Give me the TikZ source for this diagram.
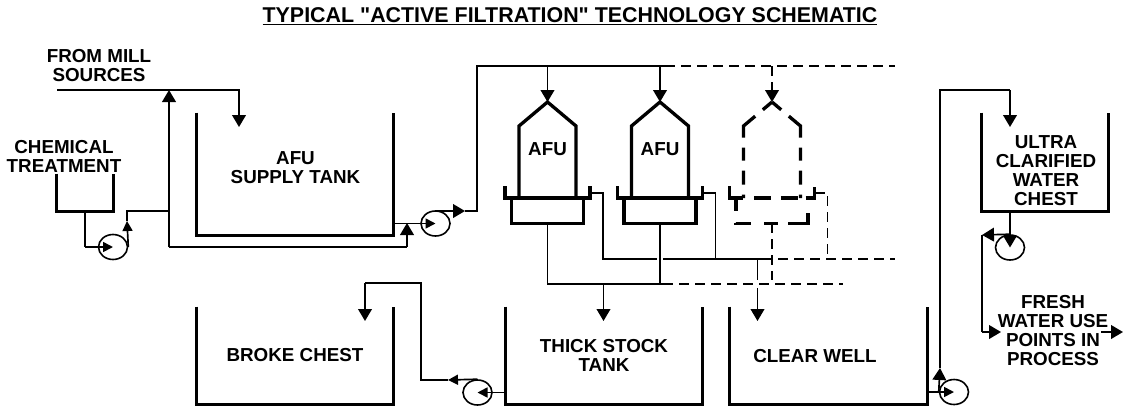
\documentclass[tikz,border=0pt]{standalone}
\usepackage{fontspec}
\setmainfont[Ligatures=TeXOff]{Liberation Sans}
\usetikzlibrary{arrows.meta,shapes.geometric,positioning}

\begin{document}
\begin{tikzpicture}[
  x=0.75pt, y=-0.75pt,
  every node/.style = {font=\bfseries\fontsize{14.1}{14.25}\selectfont, align=center, inner sep=0pt},
  %--- node styles ---------------------------------------------------
  tankst/.style   = {rectangle, minimum width=#1*0.75pt},
  pumpst/.style   = {draw, ellipse, line width=1.2pt,
                     minimum width=21.75pt, minimum height=18.75pt},
  boxst/.style    = {rectangle, minimum width=53.6pt, minimum height=18.75pt},
  tankline/.style = {line width=2.5pt},
  afuline/.style  = {line width=2.5pt},
  hooddash/.style = {line width=2.5pt,
                     dash pattern=on 9pt off 7.5pt on 20.25pt off 7.5pt on 9.75pt off 7.5pt on 10.5pt off 7.5pt on 10pt},
  traydash/.style = {line width=2.5pt,
                     dash pattern=on 18.75pt off 8.75pt on 12.5pt off 7.5pt on 12.5pt off 6pt on 15pt},
  boxdash/.style  = {line width=2.5pt,
                     dash pattern=on 9.75pt off 9pt on 12pt off 9.75pt on 10.5pt off 7.5pt on 22.5pt},
  pipe/.style     = {line width=1.25pt},
  pipedash/.style = {line width=1.25pt, dash pattern=on 7.5pt off 4.5pt},
  pipegap/.style  = {pipedash, dash phase=7.5pt},
  arr/.style      = {pipe, -{Triangle[length=9pt, width=10.3pt]}},
  arrdash/.style  = {pipedash, -{Triangle[length=9pt, width=10.3pt]}},
  sarr/.style     = {pipe, -{Triangle[length=7.5pt, width=7.5pt]}},
]
\useasboundingbox (0,0) rectangle (1123,408);

% ---- Title --------------------------------------------------------
\node[font=\bfseries\fontsize{16.05}{18}\selectfont] (title) at (570,16.5)
    {\underline{TYPICAL "ACTIVE FILTRATION" TECHNOLOGY SCHEMATIC}};

% ---- Tanks --------------------------------------------------------
\node[tankst=196, minimum height=91.5pt] (supply) at (295,174) {};
\node[tankst=56, minimum height=27.75pt] (chem) at (85,192.5) {};
\node[tankst=126, minimum height=73.5pt] (ultra) at (1045,162) {};
\node[tankst=196, minimum height=72.75pt] (broke) at (295,355.5) {BROKE CHEST};
\node[tankst=197, minimum height=72.75pt, right=84pt of broke] (thick) {};
\node[tankst=197, minimum height=72.75pt, right=20.25pt of thick] (well) {};

\foreach \n in {supply,chem,ultra,broke,thick,well}
  \draw[tankline] (\n.north west) |- (\n.south east) -- (\n.north east);

% ---- Labels -------------------------------------------------------
\node (mill)   at (99,65.5)    {FROM MILL\\SOURCES};
\node (chemtx) at (64,156)     {CHEMICAL\\TREATMENT};
\node (suptx)  at (295.5,167.5) {AFU\\SUPPLY TANK};
\node (thicktx) at (604,355.5) {THICK STOCK\\TANK};
\node (welltx) at (815,356)    {CLEAR WELL};
\node (ultratx) at (1046,170.5) {ULTRA\\CLARIFIED\\WATER\\CHEST};
\node (fresh)  at (1053,331)   {FRESH\\WATER USE\\POINTS IN\\PROCESS};

% ---- Pumps --------------------------------------------------------
\node[pumpst] (pumpchem) at (113,247)     {};
\node[pumpst] (pumpsup)  at (435.5,223.5) {};
\node[pumpst] (pumpthk)  at (477.5,392.5) {};
\node[pumpst] (pumpwell) at (954,392)     {};
\node[pumpst] (pumpult)  at (1010,247.5)  {};

% ---- AFU units ----------------------------------------------------
\foreach \n/\cx in {A/547.5, B/660, C/772} {
  \node[boxst] (box\n) at (\cx,210.5) {};
  \coordinate (feed\n) at (\cx,66);
  \coordinate (tip\n)  at (\cx,102);
  \coordinate (port\n) at (\cx+42.5,193);
  \coordinate (turn\n) at (\cx+55.5,193);
  \coordinate (rej\n)  at (\cx+55.5,259);
  \coordinate (acc\n)  at (\cx,284);
}
\foreach \n/\cx in {A/547.5, B/660} {
  \draw[afuline] (box\n.north west) rectangle (box\n.south east);
  \draw[afuline] (\cx-28.5,198) -- (\cx-28.5,126) -- (\cx,102) -- (\cx+28.5,126) -- (\cx+28.5,198);
  \draw[afuline] (\cx-42.5,186) -- (\cx-42.5,198) -- (\cx+42.5,198) -- (\cx+42.5,186);
}
\draw[hooddash] (772,102) -- (743.5,126) -- (743.5,198);
\draw[hooddash] (772,102) -- (800.5,126) -- (800.5,198);
\draw[traydash] (729.5,186) -- (729.5,198) -- (814.5,198) -- (814.5,186);
\draw[boxdash] (boxC.north west) -- (boxC.south west) -- (boxC.south east) -- (boxC.north east);

\node (afuA) at (547.5,149) {AFU};
\node (afuB) at (660,149)   {AFU};

% ---- Junctions ----------------------------------------------------
\coordinate (millstart) at (57,90);
\coordinate (milljoin)  at (169,90);
\coordinate (milldrop)  at (239,90);
\coordinate (milltip)   at (239,127);
\coordinate (chemout)   at (85,211);
\coordinate (chemlow)   at (85,247);
\coordinate (chemtip)   at (127,221);
\coordinate (chemrun)   at (127,211);
\coordinate (chemjoin)  at (169,211);
\coordinate (retlow)    at (169,247);
\coordinate (retturn)   at (407,247);
\coordinate (rettip)    at (407,223);
\coordinate (supout)    at (393,223.5);
\coordinate (suptop)    at (435.5,211);
\coordinate (suptip)    at (465,211);
\coordinate (riseA)     at (477,211);
\coordinate (riseB)     at (477,66);
\coordinate (topsolid)  at (675,66);
\coordinate (topend)    at (895,66);
\coordinate (rejgapA)   at (657,259);
\coordinate (rejgapB)   at (663,259);
\coordinate (rejdrop)   at (757.5,259);
\coordinate (rejsolid)  at (772,259);
\coordinate (rejend)    at (895,259);
\coordinate (accsolid)  at (673,284);
\coordinate (accend)    at (843,284);
\coordinate (accdrop)   at (603.5,284);
\coordinate (acctip)    at (603.5,321);
\coordinate (dropA)     at (757.5,280);
\coordinate (dropB)     at (757.5,288);
\coordinate (droptip)   at (757.5,321);
\coordinate (dropC)     at (772,280);
\coordinate (thkout)    at (505,392.5);
\coordinate (thktip)    at (448,380);
\coordinate (thkrun)    at (421,380);
\coordinate (thkup)     at (421,283);
\coordinate (thkleft)   at (365,283);
\coordinate (thkend)    at (365,321);
\coordinate (wellout)   at (926,392);
\coordinate (welltip)   at (940,368);
\coordinate (welltop)   at (940,90);
\coordinate (wellrun)   at (1010,90);
\coordinate (wellend)   at (1010,127);
\coordinate (ultout)    at (1010,211);
\coordinate (ulttip)    at (982,235);
\coordinate (ultlow)    at (982,332);
\coordinate (usetip)    at (1001,332);
\coordinate (usestart)  at (1101,332);
\coordinate (useend)    at (1123,332);

% ---- Arrows -------------------------------------------------------
\draw[arr]  (millstart) -- (milldrop) -- (milltip);
\draw[arr]  (retlow) -- (milljoin);
\draw[pipe] (retlow) -- (retturn);
\draw[arr]  (retturn) -- (rettip);
\draw[pipe] (chemout) -- (chemlow);
\draw[sarr] (chemlow) -- (pumpchem.center);
\draw[sarr] (pumpchem.east) -- (chemtip);
\draw[pipe] (chemtip) -- (chemrun) -- (chemjoin);
\draw[sarr] (supout) -- (pumpsup.center);
\draw[arr]  (suptop) -- (suptip);
\draw[pipe] (suptip) -- (riseA) -- (riseB) -- (topsolid);
\draw[pipegap] (topsolid) -- (topend);
\draw[arr]  (feedA) -- (tipA);
\draw[arr]  (feedB) -- (tipB);
\draw[arrdash] (feedC) -- (tipC);

\draw[pipe] (portA) -- (turnA) -- (rejA) -- (rejgapA);
\draw[pipe] (rejgapB) -- (rejsolid);
\draw[pipe] (portB) -- (turnB) -- (rejB);
\draw[pipedash] (portC) -- (turnC) -- (rejC);
\draw[pipegap] (rejsolid) -- (rejend);
\draw[pipe] (boxA.south) -- (accA) -- (accsolid);
\draw[pipe] (boxB.south) -- (accB);
\draw[pipedash] (boxC.south) -- (dropC);
\draw[pipegap] (accsolid) -- (accend);
\draw[arr]  (accdrop) -- (acctip);
\draw[pipe] (rejdrop) -- (dropA);
\draw[arr]  (dropB) -- (droptip);

\draw[sarr] (thkout) -- (pumpthk.center);
\draw[sarr] (pumpthk.north) -- (thktip);
\draw[pipe] (thktip) -- (thkrun) -- (thkup) -- (thkleft);
\draw[arr]  (thkleft) -- (thkend);

\draw[sarr] (wellout) -- (pumpwell.center);
\draw[arr]  (pumpwell.west) -- (welltip);
\draw[pipe] (welltip) -- (welltop) -- (wellrun);
\draw[arr]  (wellrun) -- (wellend);

\draw[arr]  (ultout) -- (pumpult.center);
\draw[arr]  (pumpult.north) -- (ulttip);
\draw[pipe] (ulttip) -- (ultlow);
\draw[arr]  (ultlow) -- (usetip);
\draw[arr]  (usestart) -- (useend);

\end{tikzpicture}
\end{document}
